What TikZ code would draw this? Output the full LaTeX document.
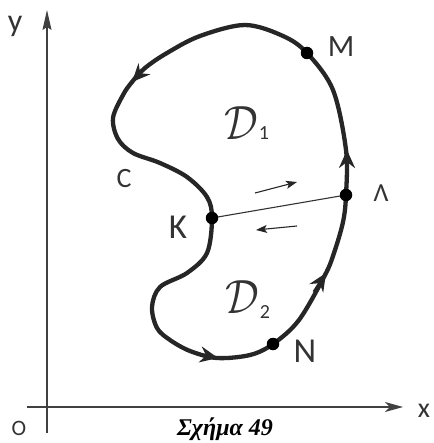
\documentclass[tikz,border=0pt]{standalone}
\usepackage{fontspec}
\setmainfont{Carlito}
\newfontfamily\capfont{Liberation Serif}
\usetikzlibrary{arrows.meta}
\newcommand{\bigD}{\scalebox{4.2}[4.8]{\fontsize{10}{12}\selectfont$\mathcal{D}$}}
\begin{document}
\begin{tikzpicture}[x=1pt,y=-1pt,
  curve/.style={line width=4.3pt, draw=black!85, line join=round},
  tipseg/.style={line width=3pt, draw=black!85, -{Stealth[length=18pt,width=16pt,inset=6pt]}},
  dot/.style={circle, fill=black, inner sep=0pt, minimum size=12.5pt},
  axis/.style={line width=1.3pt, draw=black!75},
  smallarr/.style={line width=1.1pt, draw=black!85, -{Stealth[length=11pt,width=8pt,inset=2.5pt]}},
  chord/.style={line width=1.1pt, draw=black!80},
  lab/.style={inner sep=0pt, text=black!80}]

\useasboundingbox (0,0) rectangle (433,443);

% axes
\coordinate (ybot) at (47,433);
\coordinate (ytop) at (47,10);
\coordinate (xleft) at (27,407);
\coordinate (xright) at (403,407);
\draw[axis, -{Stealth[length=20pt,width=9pt,inset=3pt]}] (ybot) -- (ytop);
\draw[axis, -{Stealth[length=18pt,width=10pt,inset=5pt]}] (xleft) -- (xright);

% special points
\coordinate (K) at (212,218);
\coordinate (M) at (307,53);
\coordinate (L) at (346,195);
\coordinate (N) at (273,344);

% contour C
\draw[curve] plot[smooth cycle, tension=0.55] coordinates {
  (K) (207,197) (187,177) (160,163) (133,153) (118,139) (113,118)
  (123,95) (132,82) (145,68) (167,53) (200,36) (245,25) (283,36)
  (M) (333,90) (346,150) (L) (343,222) (334,253) (325,275) (299,320)
  (N) (250,355) (217,358) (190,351) (170,340) (157,328) (152,307)
  (160,287) (187,273) (207,253)};

% arrowheads on the contour
\coordinate (a1s) at (147,66);  \coordinate (a1e) at (132,82);
\coordinate (a2s) at (347,172); \coordinate (a2e) at (347,150);
\coordinate (a3s) at (314,292); \coordinate (a3e) at (326,273);
\coordinate (a4s) at (198,354); \coordinate (a4e) at (218,358);
\draw[tipseg] (a1s) -- (a1e);
\draw[tipseg] (a2s) -- (a2e);
\draw[tipseg] (a3s) -- (a3e);
\draw[tipseg] (a4s) -- (a4e);

% chord K-Lambda
\draw[chord] (K) -- (L);

% direction arrows along the chord
\coordinate (u1) at (255,193); \coordinate (u2) at (297,182);
\coordinate (w1) at (297,226); \coordinate (w2) at (256,230);
\draw[smallarr] (u1) -- (u2);
\draw[smallarr] (w1) -- (w2);

% dots
\node[dot] (Kdot) at (K) {};
\node[dot] (Mdot) at (M) {};
\node[dot] (Ldot) at (L) {};
\node[dot] (Ndot) at (N) {};

% labels
\node[lab, font=\fontsize{32}{32}\selectfont] (ylab) at (15,26) {y};
\node[lab, font=\fontsize{28}{28}\selectfont] (xlab) at (424,411) {x};
\node[lab, font=\fontsize{22}{22}\selectfont] (olab) at (19,428) {O};
\node[lab, font=\fontsize{31}{31}\selectfont] (mlab) at (341,47) {M};
\node[lab, font=\fontsize{26}{26}\selectfont] (llab) at (381,193) {Λ};
\node[lab, font=\fontsize{35}{35}\selectfont] (klab) at (178,227) {K};
\node[lab, font=\fontsize{35}{35}\selectfont] (nlab) at (305,351) {N};
\node[lab, font=\fontsize{28}{28}\selectfont] (clab) at (124,179) {C};
\node[lab, anchor=base west, font=\fontsize{20}{20}\selectfont] (d1) at (224,140) {\bigD\kern1pt 1};
\node[lab, anchor=base west, font=\fontsize{20}{20}\selectfont] (d2) at (225,313) {\bigD\kern1pt\raisebox{-5pt}{2}};

% caption
\node[inner sep=0pt, anchor=base, font=\fontsize{24}{24}\selectfont\capfont\bfseries\itshape] (cap) at (225,435) {Σχήμα 49};
\end{tikzpicture}
\end{document}
